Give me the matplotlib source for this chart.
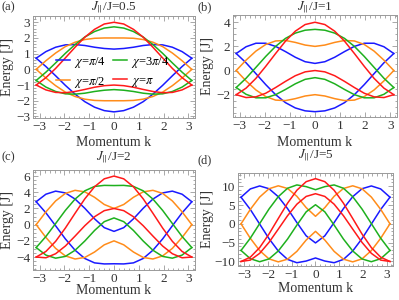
import numpy as np
import matplotlib
matplotlib.use("Agg")
import matplotlib.pyplot as plt
from matplotlib.ticker import MultipleLocator

plt.rcParams['font.family'] = ['Liberation Serif', 'DejaVu Serif']
plt.rcParams['mathtext.fontset'] = 'stix'

# bands are symmetric in k, so only the k <= 0 half is listed
k_half = [-3.1416, -2.7489, -2.3562, -1.9635, -1.5708, -1.1781, -0.7854, -0.3927, 0.0]

# (a) J_par/J = 0.5
a_blue_up = [0.71, 1.13, 1.41, 1.56, 1.58, 1.52, 1.41, 1.33, 1.29]
a_blue_dn = [0.71, 0.18, -0.41, -1.02, -1.58, -2.06, -2.41, -2.63, -2.71]
a_orange_up = [0.0, 0.55, 1.04, 1.45, 1.73, 1.90, 1.98, 2.00, 2.00]
a_orange_dn = [0.0, -0.55, -1.04, -1.45, -1.73, -1.90, -1.98, -2.00, -2.00]
a_green_up = [-0.71, -0.18, 0.41, 1.02, 1.58, 2.06, 2.41, 2.63, 2.71]
a_green_dn = [-0.71, -1.13, -1.41, -1.56, -1.58, -1.52, -1.41, -1.33, -1.29]
a_red_up = [-1.0, -0.53, 0.06, 0.73, 1.41, 2.05, 2.55, 2.89, 3.0]
a_red_dn = [-1.0, -1.31, -1.47, -1.49, -1.41, -1.28, -1.14, -1.04, -1.0]

# (b) J_par/J = 1
b_blue_up = [1.41, 1.97, 2.26, 2.26, 2.0, 1.57, 1.10, 0.73, 0.59]
b_blue_dn = [1.41, 0.64, -0.26, -1.17, -2.0, -2.66, -3.10, -3.34, -3.41]
b_orange_up = [0.0, 0.86, 1.61, 2.16, 2.45, 2.49, 2.33, 2.11, 2.0]
b_orange_dn = [0.0, -0.86, -1.61, -2.16, -2.45, -2.49, -2.33, -2.11, -2.0]
b_green_up = [-1.41, -0.64, 0.26, 1.17, 2.0, 2.66, 3.10, 3.34, 3.41]
b_green_dn = [-1.41, -1.97, -2.26, -2.26, -2.0, -1.57, -1.10, -0.73, -0.59]
b_red_up = [-2.0, -1.46, -0.65, 0.35, 1.41, 2.43, 3.26, 3.81, 4.0]
b_red_dn = [-2.0, -2.24, -2.18, -1.88, -1.41, -0.90, -0.43, -0.11, 0.0]

# (c) J_par/J = 2
c_blue_up = [2.83, 3.76, 4.14, 3.92, 3.16, 2.02, 0.72, -0.37, -0.83]
c_blue_dn = [2.83, 1.46, -0.14, -1.76, -3.16, -4.18, -4.72, -4.85, -4.83]
c_orange_up = [0.0, 1.58, 2.93, 3.86, 4.24, 4.05, 3.38, 2.49, 2.0]
c_orange_dn = [0.0, -1.58, -2.93, -3.86, -4.24, -4.05, -3.38, -2.49, -2.0]
c_green_up = [-2.83, -1.46, 0.14, 1.76, 3.16, 4.18, 4.72, 4.85, 4.83]
c_green_dn = [-2.83, -3.76, -4.14, -3.92, -3.16, -2.02, -0.72, 0.37, 0.83]
c_red_up = [-4.0, -3.31, -2.06, -0.42, 1.41, 3.19, 4.68, 5.66, 6.0]
c_red_dn = [-4.0, -4.09, -3.59, -2.64, -1.41, -0.13, 0.98, 1.73, 2.0]

# (d) J_par/J = 5
d_blue_up = [7.07, 9.27, 10.06, 9.33, 7.21, 4.04, 0.33, -3.19, -5.07]
d_blue_dn = [7.07, 3.80, -0.06, -3.92, -7.21, -9.45, -10.33, -9.88, -9.07]
d_orange_up = [0.0, 3.85, 7.11, 9.31, 10.10, 9.39, 7.31, 4.30, 2.0]
d_orange_dn = [0.0, -3.85, -7.11, -9.31, -10.10, -9.39, -7.31, -4.30, -2.0]
d_green_up = [-7.07, -3.80, 0.06, 3.92, 7.21, 9.45, 10.33, 9.88, 9.07]
d_green_dn = [-7.07, -9.27, -10.06, -9.33, -7.21, -4.04, -0.33, 3.19, 5.07]
d_red_up = [-10.0, -8.85, -6.31, -2.72, 1.41, 5.49, 8.92, 11.20, 12.0]
d_red_dn = [-10.0, -9.63, -7.84, -4.94, -1.41, 2.16, 5.22, 7.28, 8.0]

chi_labels = [r'$\chi$=$\pi$/4', r'$\chi$=$\pi$/2', r'$\chi$=3$\pi$/4', r'$\chi$=$\pi$']
colors = ['#1a1aff', '#ff8c1a', '#1eb01e', '#ff1a1a']

titles = [r'$J_{\|}$/J=0.5', r'$J_{\|}$/J=1', r'$J_{\|}$/J=2', r'$J_{\|}$/J=5']
tags = ['(a)', '(b)', '(c)', '(d)']

panels = [
    [(a_blue_up, a_blue_dn), (a_orange_up, a_orange_dn), (a_green_up, a_green_dn), (a_red_up, a_red_dn)],
    [(b_blue_up, b_blue_dn), (b_orange_up, b_orange_dn), (b_green_up, b_green_dn), (b_red_up, b_red_dn)],
    [(c_blue_up, c_blue_dn), (c_orange_up, c_orange_dn), (c_green_up, c_green_dn), (c_red_up, c_red_dn)],
    [(d_blue_up, d_blue_dn), (d_orange_up, d_orange_dn), (d_green_up, d_green_dn), (d_red_up, d_red_dn)],
]


def mirror(half):
    half = np.asarray(half)
    return np.concatenate([half, half[-2::-1]])


k_full = np.concatenate([np.asarray(k_half), -np.asarray(k_half)[-2::-1]])

W, H = 399, 300
fig = plt.figure(figsize=(W / 100, H / 100), dpi=100)

# frame boxes in pixels: left, top, right, bottom
boxes = [(33, 16, 195, 118), (233, 15, 397, 117), (33, 170, 195, 270), (238, 173, 393, 266)]
ylims = [(-3.1, 3.4), (-3.85, 4.6), (-5.6, 6.75), (-11.2, 13.5)]
ymaj = [1, 2, 2, 5]
ymin = [0.2, 0.5, 0.5, 1]
tag_pos = [(1, 7), (198, 7), (1, 157), (197, 160)]
ylab_x = [8, 208, 8, 207]
xlab_y = [142, 142, 291, 288]
title_y = [7, 7, 157, 155]

frame_col = '#9a9a9a'
text_col = '#333333'

axes = []
for i, (l, t, r, b) in enumerate(boxes):
    ax = fig.add_axes([l / W, 1 - b / H, (r - l) / W, (b - t) / H])
    for (up, dn), c in zip(panels[i], colors):
        ax.plot(k_full, mirror(up), color=c, lw=1.1, solid_joinstyle='round')
        ax.plot(k_full, mirror(dn), color=c, lw=1.1, solid_joinstyle='round')
    ax.set_xlim(-3.27, 3.27)
    ax.set_ylim(*ylims[i])
    ax.xaxis.set_major_locator(MultipleLocator(1))
    ax.xaxis.set_minor_locator(MultipleLocator(0.2))
    ax.yaxis.set_major_locator(MultipleLocator(ymaj[i]))
    ax.yaxis.set_minor_locator(MultipleLocator(ymin[i]))
    ax.tick_params(which='both', direction='in', top=True, right=True,
                   color=frame_col, width=0.6, labelsize=9.5, labelcolor=text_col, pad=2)
    ax.tick_params(which='major', length=3.5)
    ax.tick_params(which='minor', length=1.8)
    for s in ax.spines.values():
        s.set_color(frame_col)
        s.set_linewidth(0.7)
    cx = (l + r) / 2
    fig.text(cx / W, 1 - title_y[i] / H, titles[i], ha='center', va='center',
             fontsize=9.5, color=text_col)
    fig.text(tag_pos[i][0] / W, 1 - tag_pos[i][1] / H, tags[i], ha='left', va='center',
             fontsize=9, color=text_col)
    fig.text(ylab_x[i] / W, 1 - ((t + b) / 2) / H, 'Energy [J]', rotation=90,
             ha='center', va='center', fontsize=10, color=text_col)
    fig.text(cx / W, 1 - xlab_y[i] / H, 'Momentum k', ha='center', va='center',
             fontsize=10, color=text_col)
    axes.append(ax)

# legend in panel (a): two columns
handles = axes[0].get_lines()[::2]
axes[0].legend(handles, chi_labels,
               ncol=2, frameon=False, fontsize=9, loc='center',
               bbox_to_anchor=(0.49, 0.45), handlelength=1.1, handletextpad=0.3,
               columnspacing=0.6, labelspacing=0.4, borderpad=0.2)

fig.savefig('out.png', dpi=100)
